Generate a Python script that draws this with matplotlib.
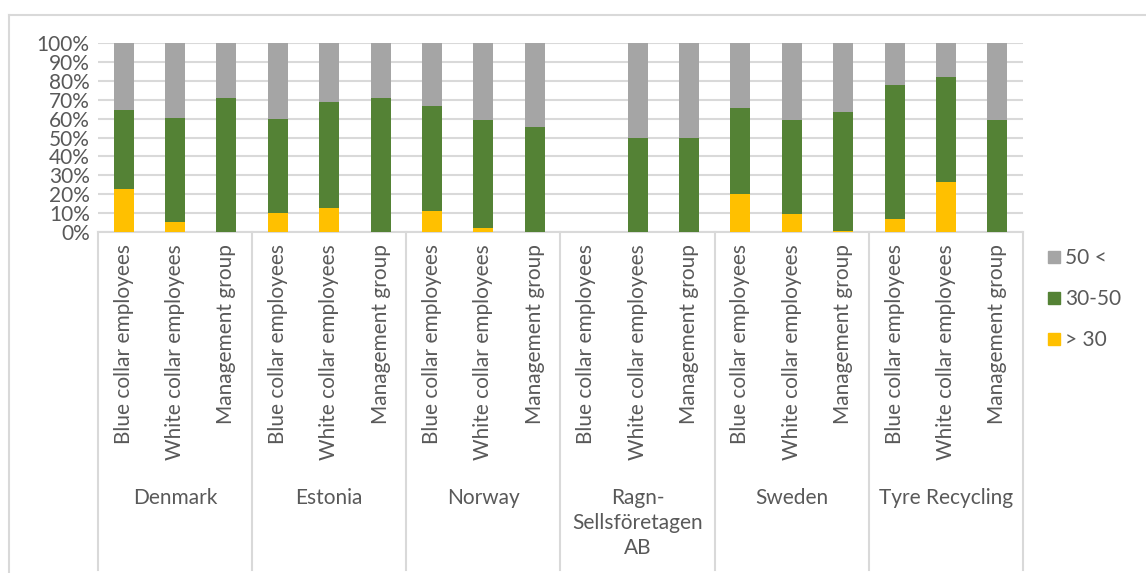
import matplotlib.pyplot as plt
import numpy as np
from matplotlib.lines import Line2D
from matplotlib.transforms import blended_transform_factory

plt.rcParams['font.family'] = ['Lato', 'DejaVu Sans']

groups = ['Denmark', 'Estonia', 'Norway', 'Ragn-\nSellsföretagen\nAB', 'Sweden', 'Tyre Recycling']
roles = ['Blue collar employees', 'White collar employees', 'Management group']

# percentages per bar, in order Denmark..Tyre, 3 roles each
under30 = [23, 5.5, 0, 10, 12.5, 0, 11, 2, 0, 0, 0, 0, 20, 9.5, 0.5, 7, 26.5, 0]
mid30_50 = [41.5, 55, 70.8, 50, 56.5, 71, 55.5, 57.5, 55.5, 0, 50, 50, 45.7, 50, 62.8, 71, 55.5, 59.5]
over50 = [35.5, 39.4, 29.2, 40, 31, 29, 33.5, 40.5, 44.5, 0, 50, 50, 34.3, 40.5, 36.7, 22, 18, 40.5]

c_young = '#ffc000'
c_mid = '#548235'
c_old = '#a5a5a5'
txt = '#595959'
grid = '#d9d9d9'
fs = 15

fig = plt.figure(figsize=(11.46, 5.73), dpi=100)
ax = fig.add_axes([98/1146, (573-232)/573, 925/1146, 189/573])

x = np.arange(len(under30))
w = 0.39
y1 = np.array(under30)
y2 = np.array(mid30_50)
y3 = np.array(over50)
ax.bar(x, y1, w, color=c_young, zorder=3)
ax.bar(x, y2, w, bottom=y1, color=c_mid, zorder=3)
ax.bar(x, y3, w, bottom=y1+y2, color=c_old, zorder=3)

ax.set_xlim(-0.5, len(x)-0.5)
ax.set_ylim(0, 100)
ax.set_yticks(np.arange(0, 101, 10))
ax.set_yticklabels([f'{v}%' for v in range(0, 101, 10)])
ax.yaxis.grid(True, color=grid, linewidth=1.5, zorder=0)
ax.tick_params(axis='y', length=0, labelsize=fs, labelcolor=txt, pad=6)
ax.set_xticks(x)
ax.set_xticklabels(roles * len(groups), rotation=90, ha='center', va='top')
ax.tick_params(axis='x', length=0, labelsize=fs, labelcolor=txt, pad=9)
for s in ['top', 'right', 'left']:
    ax.spines[s].set_visible(False)
ax.spines['bottom'].set_color(grid)
ax.spines['bottom'].set_linewidth(1.5)

tr = blended_transform_factory(ax.transData, fig.transFigure)
for i in range(len(groups) + 1):
    ax.add_line(Line2D([i*3-0.5, i*3-0.5], [(573-232)/573, 3/573], transform=tr,
                       color=grid, linewidth=1.5, clip_on=False))
for i, g in enumerate(groups):
    ax.text(i*3+1, (573-488)/573, g, transform=tr, ha='center', va='top',
            fontsize=fs, color=txt, linespacing=1.3)

# outer chart border
fig.add_artist(Line2D([9/1146, 1], [(573-15)/573]*2, color=grid, linewidth=1.5))
fig.add_artist(Line2D([9/1146]*2, [(573-15)/573, 0], color=grid, linewidth=1.5))

handles = [Line2D([], [], marker='s', linestyle='none', markersize=8, color=c)
           for c in [c_old, c_mid, c_young]]
fig.legend(handles, ['50 <', '30-50', '> 30'], loc='center left',
           bbox_to_anchor=(1030/1146, (573-299)/573), frameon=False, fontsize=fs,
           labelcolor=txt, handlelength=0.5, handletextpad=0.3, labelspacing=1.0)

fig.savefig('out.png', dpi=100)
